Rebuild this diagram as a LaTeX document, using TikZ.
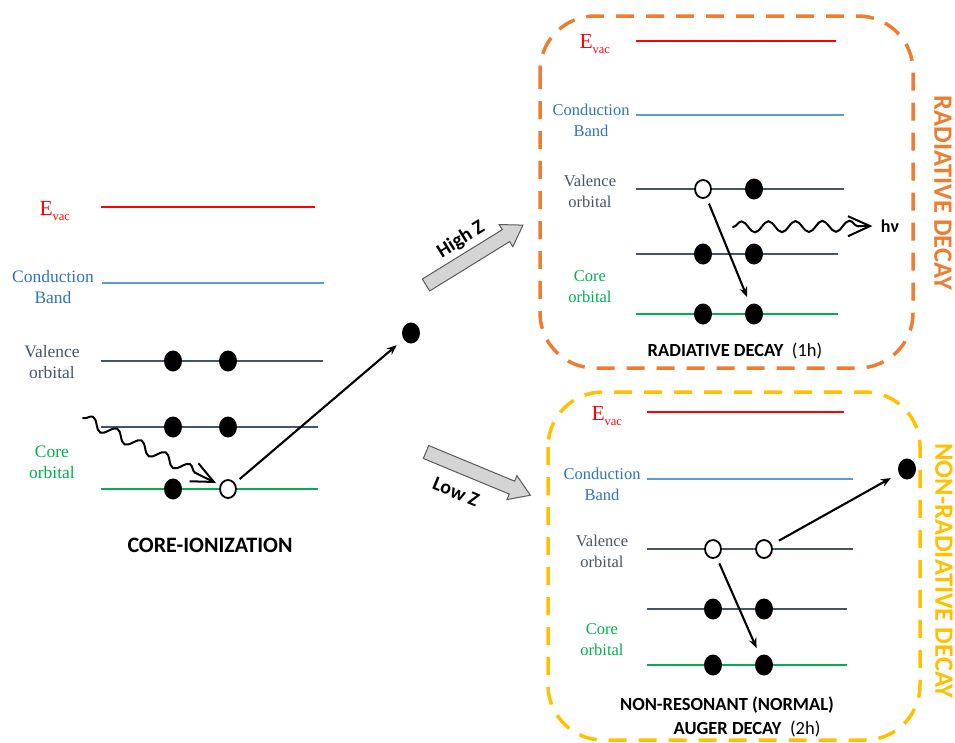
\documentclass[tikz,border=0pt]{standalone}
\usepackage{fontspec}
\setmainfont{Liberation Serif}
\newfontfamily\calfont{Carlito}
\usetikzlibrary{arrows.meta,shapes.geometric,decorations.pathmorphing}
\definecolor{evred}{RGB}{255,0,0}
\definecolor{cbblue}{RGB}{91,155,213}
\definecolor{cbtext}{RGB}{46,117,182}
\definecolor{valgray}{RGB}{68,84,106}
\definecolor{coregreen}{RGB}{0,176,80}
\definecolor{boxorange}{RGB}{237,125,49}
\definecolor{boxgold}{RGB}{255,192,0}
\definecolor{arrgray}{RGB}{212,212,212}
\definecolor{arredge}{RGB}{90,90,90}
\newcommand\Evacsym{E\raisebox{-5pt}{\fontsize{12.5}{12.5}\selectfont vac}}
\begin{document}
\begin{tikzpicture}[x=1pt,y=-1pt,
  lvl/.style={line width=2.7pt},
  evac/.style={lvl,draw=evred},
  cb/.style={lvl,draw=cbblue},
  val/.style={lvl,draw=valgray},
  core/.style={lvl,draw=coregreen},
  elec/.style={ellipse,fill=black,minimum width=18pt,minimum height=21pt,inner sep=0pt},
  hole/.style={ellipse,fill=white,draw=black,line width=1.8pt,minimum width=16pt,minimum height=18pt,inner sep=0pt},
  lblL/.style={align=center,font=\fontsize{17.5}{21}\selectfont},
  lblR/.style={align=center,font=\fontsize{16.5}{21}\selectfont},
  evlbl/.style={anchor=base west,text=evred,font=\fontsize{21.5}{21.5}\selectfont},
  jump/.style={line width=2.1pt,-{Stealth[length=10pt,width=8pt]}},
  photon/.style={line width=2pt,line cap=round,decorate,
    decoration={snake,amplitude=5.5pt,segment length=27pt,post length=18pt},
    -{Straight Barb[length=22pt,width=20pt,line width=2pt]}},
  title/.style={font=\calfont\bfseries\fontsize{22}{22}\selectfont},
  subtitle/.style={font=\calfont\fontsize{18.5}{22}\selectfont},
  zlbl/.style={font=\calfont\bfseries\fontsize{20}{20}\selectfont},
  blockarr/.style={fill=arrgray,draw=arredge,line width=1pt,line join=miter},
  dbox/.style={line width=3.5pt,dash pattern=on 18pt off 12pt,rounded corners=55pt},
  vtext/.style={rotate=-90,font=\calfont\bfseries\fontsize{26.5}{26.5}\selectfont}
]
\useasboundingbox (0,0) rectangle (955,742);

%%% LEFT: core ionization
\draw[evac] (101,207) -- (315,207);
\node[evlbl] (Lev) at (36,215) {\Evacsym};
\draw[cb] (102,283) -- (324,283);
\node[lblL,text=cbtext] (Lcb) at (53,287) {Conduction\\Band};
\draw[val] (101,361) -- (323,361);
\node[lblL,text=valgray] (Lval) at (52,362) {Valence\\orbital};
\draw[val] (101,427) -- (318,427);
\draw[core] (101,489) -- (318,489);
\node[lblL,text=coregreen] (Lcore) at (52,462) {Core\\orbital};
\node[elec] (La1) at (173,361) {};
\node[elec] (La2) at (228,361) {};
\node[elec] (Lb1) at (173,427) {};
\node[elec] (Lb2) at (228,427) {};
\node[elec] (Lc1) at (173,489) {};
\node[hole] (Lh) at (228,489) {};
\node[elec] (Lfree) at (411,333) {};
\draw[jump,shorten <=6pt,shorten >=9pt] (Lh) -- (Lfree);
\coordinate (Lw0) at (83,418);
\coordinate (Lw1) at (216,483);
\draw[photon] (Lw0) -- (Lw1);
\node[title] (Ltitle) at (210,545) {CORE-IONIZATION};

%%% block arrows
\begin{scope}[shift={(426,285)},rotate=31.7]
\draw[blockarr] (0,-7) -- (94,-7) -- (94,-13) -- (114,0) -- (94,13) -- (94,7) -- (0,7) -- cycle;
\end{scope}
\node[rotate=31.7,zlbl] (hz) at (461,240) {High Z};
\begin{scope}[shift={(426,452)},rotate=-22.5]
\draw[blockarr] (0,-7) -- (93,-7) -- (93,-13) -- (113,0) -- (93,13) -- (93,7) -- (0,7) -- cycle;
\end{scope}
\node[rotate=-22.5,zlbl] (lz) at (456,492) {Low Z};

%%% TOP RIGHT: radiative decay
\draw[dbox,draw=boxorange] (540,16) rectangle (913,368);
\draw[evac] (636,41) -- (836,41);
\node[evlbl] (Rev) at (576,48) {\Evacsym};
\draw[cb] (636,115) -- (844,115);
\node[lblR,text=cbtext] (Rcb) at (591,120) {Conduction\\Band};
\draw[val] (636,189) -- (844,189);
\node[lblR,text=valgray] (Rval) at (590,191) {Valence\\orbital};
\draw[val] (636,254) -- (838,254);
\draw[core] (636,314) -- (838,314);
\node[lblR,text=coregreen] (Rcore) at (590,287) {Core\\orbital};
\node[hole] (Ra1) at (703,189) {};
\node[elec] (Ra2) at (754,189) {};
\node[elec] (Rb1) at (703,254) {};
\node[elec] (Rb2) at (754,254) {};
\node[elec] (Rc1) at (703,314) {};
\node[elec] (Rc2) at (754,314) {};
\draw[jump,shorten <=6pt,shorten >=8pt] (Ra1) -- (Rc2);
\coordinate (Rw0) at (733,227);
\node[font=\calfont\bfseries\fontsize{18}{18}\selectfont] (hv) at (890,226) {hν};
\draw[photon,shorten >=5pt] (Rw0) -- (hv.west);
\node[subtitle] (Rtitle) at (735,351) {\textbf{RADIATIVE DECAY}\ \ (1h)};
\node[vtext,text=boxorange] (Rv) at (943,193) {RADIATIVE DECAY};

%%% BOTTOM RIGHT: Auger decay
\draw[dbox,draw=boxgold] (548,392) rectangle (920,740);
\draw[evac] (647,412) -- (844,412);
\node[evlbl] (Aev) at (588,420) {\Evacsym};
\draw[cb] (647,479) -- (853,479);
\node[lblR,text=cbtext] (Acb) at (602,484) {Conduction\\Band};
\draw[val] (647,549) -- (853,549);
\node[lblR,text=valgray] (Aval) at (602,551) {Valence\\orbital};
\draw[val] (647,609) -- (847,609);
\draw[core] (647,665) -- (847,665);
\node[lblR,text=coregreen] (Acore) at (602,640) {Core\\orbital};
\node[hole] (Aa1) at (713,549) {};
\node[hole] (Aa2) at (764,549) {};
\node[elec] (Ab1) at (713,609) {};
\node[elec] (Ab2) at (764,609) {};
\node[elec] (Ac1) at (713,665) {};
\node[elec] (Ac2) at (764,665) {};
\node[elec] (Afree) at (907,469) {};
\draw[jump,shorten <=8pt,shorten >=9pt] (Aa2) -- (Afree);
\draw[jump,shorten <=6pt,shorten >=8pt] (Aa1) -- (Ac2);
\node[subtitle] (At1) at (727,705) {\textbf{NON-RESONANT (NORMAL)}};
\node[subtitle] (At2) at (747,729) {\textbf{AUGER DECAY}\ \ (2h)};
\node[vtext,text=boxgold] (Av) at (944,571) {NON-RADIATIVE DECAY};
\end{tikzpicture}
\end{document}
